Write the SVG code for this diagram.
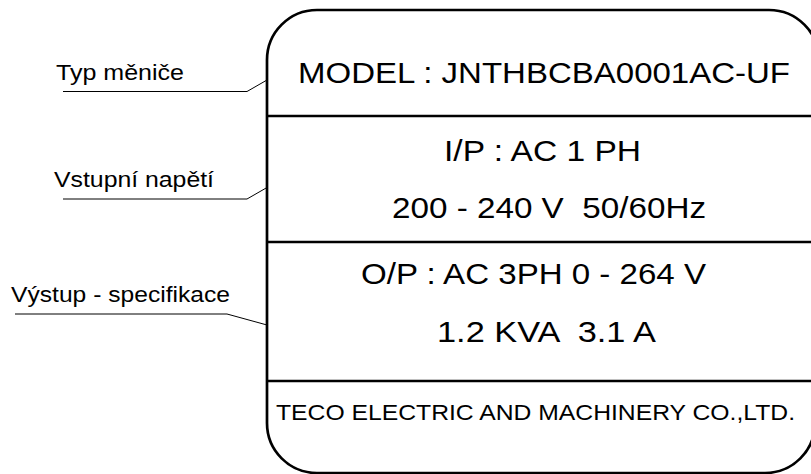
<svg xmlns="http://www.w3.org/2000/svg" width="811" height="474" viewBox="0 0 811 474" overflow="hidden">
<defs>
<clipPath id="page"><rect x="0" y="0" width="811" height="474"/></clipPath>
</defs>
<style>
.frame{fill:none;stroke:#000;stroke-width:2.7}
.div{stroke:#000;stroke-width:2.7}
.lead{fill:none;stroke:#000;stroke-width:1}
.big{font-family:"Liberation Sans",Arial,sans-serif;font-size:29px;fill:#000;white-space:pre}
.sm{font-family:"Liberation Sans",Arial,sans-serif;font-size:22px;fill:#000;white-space:pre}
</style>
<rect width="811" height="474" fill="#fff"/>
<g clip-path="url(#page)">
<g id="plate">
<path class="frame" d="M267 60 A50 50 0 0 1 317 10 L769 10 A50 50 0 0 1 819 60 L815 423 A50 50 0 0 1 765 473 L317 473 A50 50 0 0 1 267 423 Z"/>
</g>
<g id="row-model">
<text class="big" x="298" y="83" textLength="492" lengthAdjust="spacingAndGlyphs">MODEL : JNTHBCBA0001AC-UF</text>
<line class="div" x1="267" y1="116" x2="837" y2="116"/>
</g>
<g id="row-input">
<text class="big" x="444" y="161" textLength="197" lengthAdjust="spacingAndGlyphs">I/P : AC 1 PH</text>
<text class="big" x="392" y="218" textLength="314" lengthAdjust="spacingAndGlyphs" xml:space="preserve">200 - 240 V  50/60Hz</text>
<line class="div" x1="267" y1="242" x2="837" y2="242"/>
</g>
<g id="row-output">
<text class="big" x="361" y="284" textLength="345" lengthAdjust="spacingAndGlyphs">O/P : AC 3PH 0 - 264 V</text>
<text class="big" x="437" y="342" textLength="219" lengthAdjust="spacingAndGlyphs" xml:space="preserve">1.2 KVA  3.1 A</text>
<line class="div" x1="267" y1="381" x2="837" y2="381"/>
</g>
<g id="row-maker">
<text class="sm" x="276" y="420" textLength="519" lengthAdjust="spacingAndGlyphs">TECO ELECTRIC AND MACHINERY CO.,LTD.</text>
</g>
<g id="label-typ">
<text class="sm" x="56" y="80" textLength="128" lengthAdjust="spacingAndGlyphs">Typ měniče</text>
</g>
<g id="label-vstup">
<text class="sm" x="54" y="187" textLength="160" lengthAdjust="spacingAndGlyphs">Vstupní napětí</text>
</g>
<g id="label-vystup">
<text class="sm" x="11" y="302" textLength="219" lengthAdjust="spacingAndGlyphs">Výstup - specifikace</text>
</g>
<g id="connectors">
<polyline class="lead" points="63,91.5 247,91.5 267,80"/>
<polyline class="lead" points="63,199 247,199 267,187.5"/>
<polyline class="lead" points="15,314 227,314 267,325"/>
</g>
</g>
</svg>
